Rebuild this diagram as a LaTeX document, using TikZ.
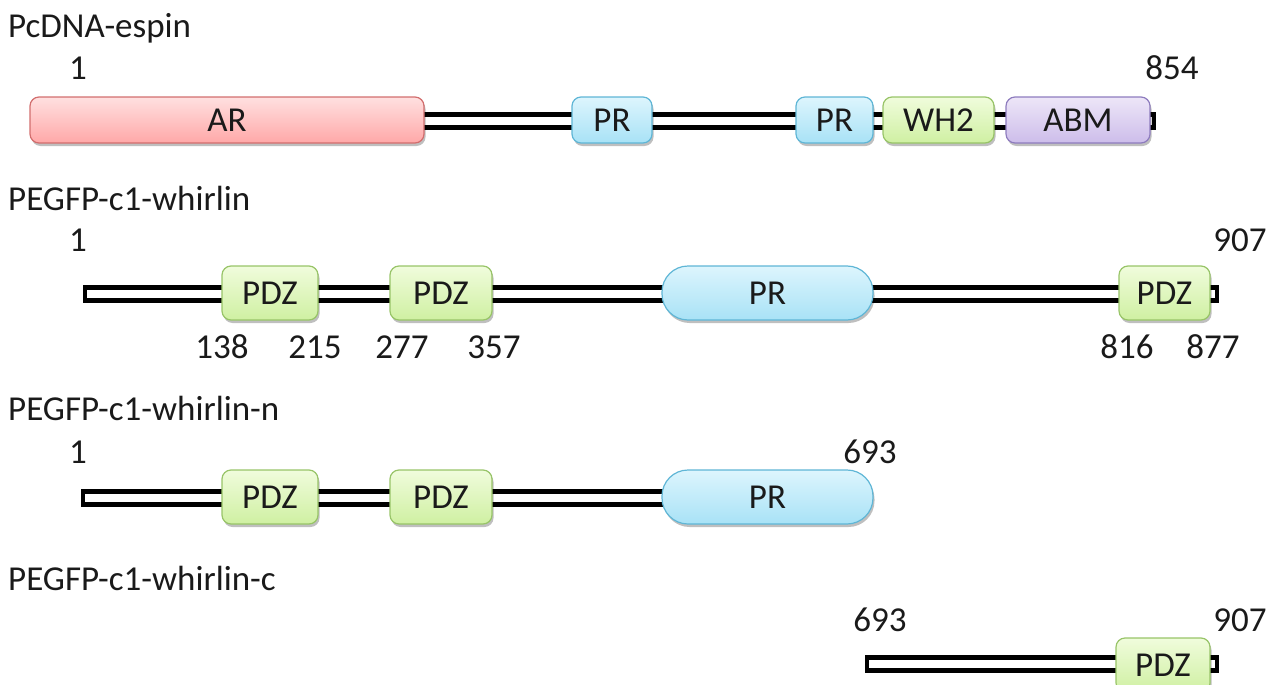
\documentclass[tikz,border=0pt]{standalone}
\usepackage{fontspec}
\setmainfont{Carlito}
\usetikzlibrary{shadows}
\definecolor{txt}{HTML}{1A1A1A}
\definecolor{arT}{HTML}{FFE0E0}\definecolor{arB}{HTML}{FFA8A8}\definecolor{arD}{HTML}{D26E6E}
\definecolor{prT}{HTML}{DDF5FD}\definecolor{prB}{HTML}{A8E2F6}\definecolor{prD}{HTML}{5FB6D6}
\definecolor{pdT}{HTML}{F0FCDC}\definecolor{pdB}{HTML}{CFF0A2}\definecolor{pdD}{HTML}{98C468}
\definecolor{abT}{HTML}{EDE6F8}\definecolor{abB}{HTML}{CDBDEA}\definecolor{abD}{HTML}{8E7CBE}
\tikzset{
  dom/.style={draw, line width=1.2pt, rounded corners=9pt, inner sep=0pt,
    font=\fontsize{35}{40}\selectfont, text=txt,
    drop shadow={shadow xshift=1.5pt, shadow yshift=-3pt, opacity=0.25, fill=black}},
  arbox/.style={dom, draw=arD, top color=arT, bottom color=arB},
  prbox/.style={dom, draw=prD, top color=prT, bottom color=prB},
  pdzbox/.style={dom, draw=pdD, top color=pdT, bottom color=pdB},
  abmbox/.style={dom, draw=abD, top color=abT, bottom color=abB},
  backbone/.style={draw=black, fill=white, line width=4.2pt},
  lbl/.style={font=\fontsize{35}{40}\selectfont, text=txt, inner sep=0pt},
  ttl/.style={lbl, anchor=west},
}
\begin{document}
\begin{tikzpicture}[x=1pt,y=-1pt]
\clip (0,0) rectangle (1269,685);
\useasboundingbox (0,0) rectangle (1269,685);
% ---------- row 1
\node[ttl] (t1) at (8,28) {PcDNA-espin};
\node[lbl] (s1) at (78,68) {1};
\node[lbl] (e1) at (1172,68) {854};
\coordinate (b1l) at (300,114.5);
\coordinate (b1r) at (1154,127.5);
\draw[backbone] (b1l) rectangle (b1r);
\node[arbox, minimum width=394pt, minimum height=46pt] (ar) at (227,120) {AR};
\node[prbox, minimum width=80pt, minimum height=46pt] (pr1) at (612,120) {PR};
\node[prbox, minimum width=77pt, minimum height=46pt] (pr2) at (834.5,120) {PR};
\node[pdzbox, minimum width=111pt, minimum height=46pt] (wh2) at (938.5,120) {WH2};
\node[abmbox, minimum width=144pt, minimum height=46pt] (abm) at (1078,120) {ABM};
% ---------- row 2
\node[ttl] (t2) at (8,198) {PEGFP-c1-whirlin};
\node[lbl] (s2) at (78,240) {1};
\node[lbl] (e2) at (1240,240) {907};
\coordinate (b2l) at (85,287.5);
\coordinate (b2r) at (1217,300.5);
\draw[backbone] (b2l) rectangle (b2r);
\node[pdzbox, minimum width=96pt, minimum height=54pt] (w2a) at (270,293) {PDZ};
\node[pdzbox, minimum width=102pt, minimum height=54pt] (w2b) at (441,293) {PDZ};
\node[prbox, rounded corners=26pt, minimum width=211pt, minimum height=54pt] (w2c) at (767.5,293) {PR};
\node[pdzbox, minimum width=91pt, minimum height=54pt] (w2d) at (1164.5,293) {PDZ};
\node[lbl] (n138) at (222,347) {138};
\node[lbl] (n215) at (315,347) {215};
\node[lbl] (n277) at (402,347) {277};
\node[lbl] (n357) at (494,347) {357};
\node[lbl] (n816) at (1127,347) {816};
\node[lbl] (n877) at (1213,347) {877};
% ---------- row 3
\node[ttl] (t3) at (8,408) {PEGFP-c1-whirlin-n};
\node[lbl] (s3) at (78,452) {1};
\node[lbl] (e3) at (870,452) {693};
\coordinate (b3l) at (83,491.5);
\coordinate (b3r) at (700,504.5);
\draw[backbone] (b3l) rectangle (b3r);
\node[pdzbox, minimum width=96pt, minimum height=54pt] (w3a) at (270,497) {PDZ};
\node[pdzbox, minimum width=102pt, minimum height=54pt] (w3b) at (441,497) {PDZ};
\node[prbox, rounded corners=26pt, minimum width=211pt, minimum height=54pt] (w3c) at (767.5,497) {PR};
% ---------- row 4
\node[ttl] (t4) at (8,578) {PEGFP-c1-whirlin-c};
\node[lbl] (s4) at (880,620) {693};
\node[lbl] (e4) at (1240,620) {907};
\coordinate (b4l) at (867,657.5);
\coordinate (b4r) at (1217,670.5);
\draw[backbone] (b4l) rectangle (b4r);
\node[pdzbox, minimum width=94pt, minimum height=54pt] (w4a) at (1163,665) {PDZ};
\end{tikzpicture}
\end{document}
